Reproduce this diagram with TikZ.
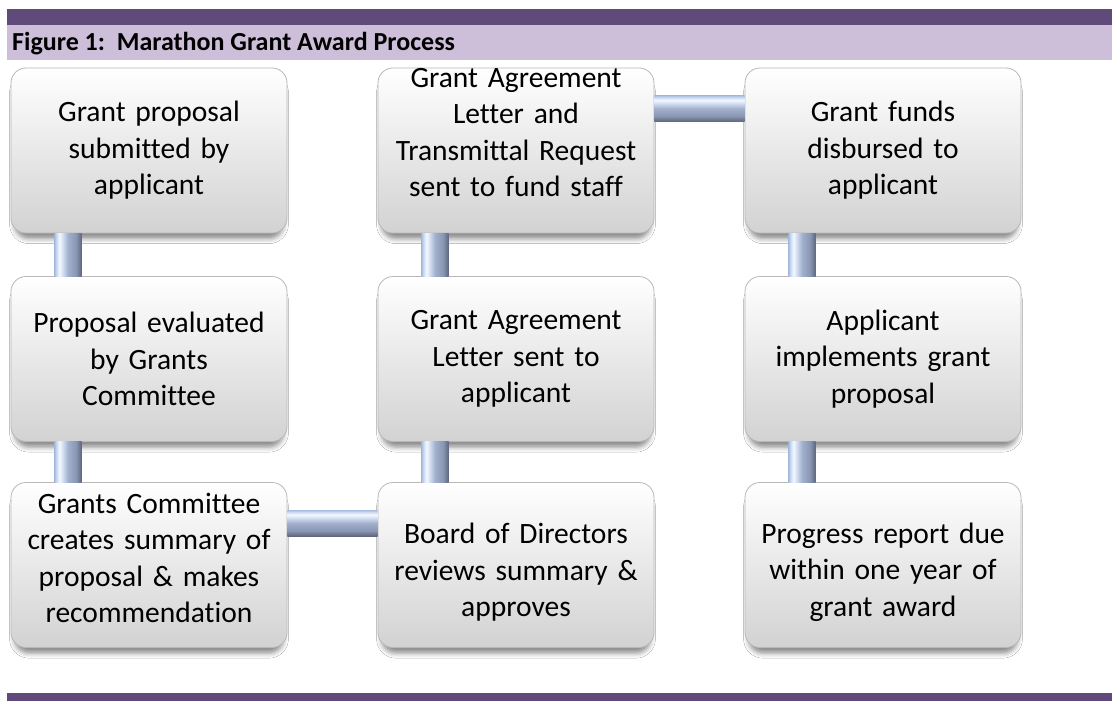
\documentclass[tikz,border=0pt]{standalone}
\usepackage{fontspec}
\setmainfont[Ligatures={NoCommon}]{Carlito}
\usetikzlibrary{shadows.blur}

\definecolor{barDark}{HTML}{5F4A7A}
\definecolor{barLight}{HTML}{CDBFD9}
\definecolor{boxBot}{HTML}{D2D2D2}
\definecolor{boxEdge}{HTML}{B8B8B8}
\definecolor{pipeA}{HTML}{5E677C}
\definecolor{pipeB}{HTML}{6E788F}
\definecolor{pipeC}{HTML}{8896B4}
\definecolor{pipeD}{HTML}{A2B0CD}
\definecolor{pipeE}{HTML}{DDE7F8}
\definecolor{pipeF}{HTML}{F4F8FF}
\definecolor{pipeG}{HTML}{CFDCF2}
\definecolor{pipeH}{HTML}{A9BDE0}

% glossy pipe: dark at the bottom, bright highlight near the top
\pgfdeclareverticalshading{pipe}{100bp}{%
  color(0bp)=(pipeA); color(25bp)=(pipeA); color(29bp)=(pipeB);
  color(35bp)=(pipeC); color(50bp)=(pipeD); color(62bp)=(pipeE);
  color(66bp)=(pipeF); color(71bp)=(pipeG); color(75bp)=(pipeH);
  color(100bp)=(pipeH)}

% an empty trailing line lifts the text block inside its box,
% an empty leading line lowers it
\newcommand{\liftline}[1]{\\[#1]\mbox{}}
\newcommand{\dropline}[1]{\mbox{}\\[#1]}

\tikzset{
  stepbox/.style={rounded corners=15pt, minimum width=276pt, minimum height=165pt,
    text width=270pt, align=center, inner sep=0pt,
    top color=white, bottom color=boxBot, draw=boxEdge, line width=0.8pt,
    blur shadow={shadow xshift=0pt, shadow yshift=-8pt, shadow scale=0.975,
      shadow blur radius=5pt, shadow opacity=45},
    font=\fontsize{29.5}{36.5}\selectfont},
  hpipe/.style={shading=pipe},
  vpipe/.style={shading=pipe, shading angle=90},
}

\begin{document}
\begin{tikzpicture}[x=1pt,y=-1pt]
\useasboundingbox[fill=white] (0,0) rectangle (1112,704);

% title band
\fill[barDark] (7,9) rectangle (1112,25);
\fill[barLight] (7,25) rectangle (1112,60);
\node[anchor=base west, inner sep=0pt, font=\fontsize{26}{30}\selectfont\bfseries] (title) at (12,50) {Figure 1:\ \ Marathon Grant Award Process};

% bottom rule
\fill[barDark] (7,693) rectangle (1112,701);

% process steps
\node[stepbox] (b11) at (149,150.5) {Grant proposal\\submitted by\\applicant};
\node[stepbox] (b21) at (149,359) {Proposal evaluated\\by Grants\\Committee};
\node[stepbox] (b31) at (149,565) {Grants Committee\\creates summary of\\proposal \& makes\\recommendation\liftline{-22pt}};
\node[stepbox] (b12) at (516,150.5) {Grant Agreement\\Letter and\\Transmittal Request\\sent to fund staff\liftline{0pt}};
\node[stepbox] (b22) at (516,359) {Grant Agreement\\Letter sent to\\applicant};
\node[stepbox] (b32) at (516,565) {\dropline{-1.5pt}Board of Directors\\reviews summary \&\\approves};
\node[stepbox] (b13) at (883,150.5) {Grant funds\\disbursed to\\applicant};
\node[stepbox] (b23) at (883,359) {Applicant\\implements grant\\proposal};
\node[stepbox] (b33) at (883,565) {\dropline{-1.5pt}Progress report due\\within one year of\\grant award};

% connecting pipes
\path[vpipe] ([xshift=44pt]b11.south west) rectangle ([xshift=71pt]b21.north west);
\path[vpipe] ([xshift=44pt]b21.south west) rectangle ([xshift=71pt]b31.north west);
\path[vpipe] ([xshift=44pt]b32.north west) rectangle ([xshift=71pt]b22.south west);
\path[vpipe] ([xshift=44pt]b22.north west) rectangle ([xshift=71pt]b12.south west);
\path[vpipe] ([xshift=44pt]b13.south west) rectangle ([xshift=71pt]b23.north west);
\path[vpipe] ([xshift=44pt]b23.south west) rectangle ([xshift=71pt]b33.north west);
\path[hpipe] ([yshift=-28pt]b31.north east) rectangle ([yshift=-54pt]b32.north west);
\path[hpipe] ([yshift=-28pt]b12.north east) rectangle ([yshift=-54pt]b13.north west);
\end{tikzpicture}
\end{document}
